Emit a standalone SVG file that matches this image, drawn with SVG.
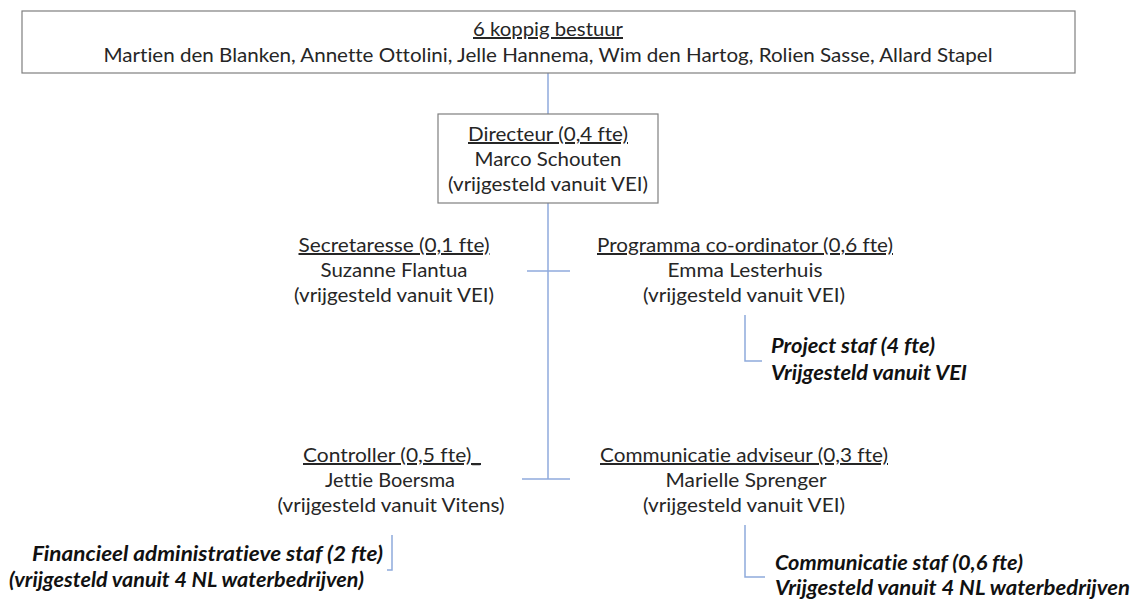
<svg xmlns="http://www.w3.org/2000/svg" width="1133" height="600" viewBox="0 0 1133 600">
<style>
text{font-family:Lato,"Open Sans","Liberation Sans",sans-serif;font-size:20px;fill:#262626;font-variant-ligatures:none}
.c{text-anchor:middle}
.u{text-decoration:underline}
.bi{font-weight:bold;font-style:italic;fill:#111}
.box{fill:#fff;stroke:#7f7f7f;stroke-width:1.2}
.ln{fill:none;stroke:#8faadc;stroke-width:1.5}
</style>
<rect width="1133" height="600" fill="#fff"/>
<g id="connectors">
<line class="ln" x1="548" y1="73" x2="548" y2="479"/>
<line class="ln" x1="527" y1="271" x2="570" y2="271"/>
<line class="ln" x1="522" y1="479" x2="570" y2="479"/>
<polyline class="ln" points="745,315 745,361 762,361"/>
<polyline class="ln" points="745,525 745,577 765,577"/>
<polyline class="ln" points="392,535 392,570 387,570"/>
</g>
<g id="bestuur">
<rect class="box" x="22" y="11" width="1053" height="62"/>
<text class="c u" x="548" y="36" textLength="150" lengthAdjust="spacingAndGlyphs">6 koppig bestuur</text>
<text class="c" x="548" y="62" textLength="889" lengthAdjust="spacingAndGlyphs">Martien den Blanken, Annette Ottolini, Jelle Hannema, Wim den Hartog, Rolien Sasse, Allard Stapel</text>
</g>
<g id="directeur">
<rect class="box" x="438" y="114" width="220" height="89"/>
<text class="c u" x="548" y="141" textLength="160" lengthAdjust="spacingAndGlyphs">Directeur (0,4 fte)</text>
<text class="c" x="548" y="166" textLength="147" lengthAdjust="spacingAndGlyphs">Marco Schouten</text>
<text class="c" x="548" y="191" textLength="200" lengthAdjust="spacingAndGlyphs">(vrijgesteld vanuit VEI)</text>
</g>
<g id="secretaresse">
<text class="c u" x="394" y="252" textLength="191" lengthAdjust="spacingAndGlyphs">Secretaresse (0,1 fte)</text>
<text class="c" x="394" y="277" textLength="147" lengthAdjust="spacingAndGlyphs">Suzanne Flantua</text>
<text class="c" x="394" y="302" textLength="200" lengthAdjust="spacingAndGlyphs">(vrijgesteld vanuit VEI)</text>
</g>
<g id="programma">
<text class="c u" x="745" y="252" textLength="296" lengthAdjust="spacingAndGlyphs">Programma co-ordinator (0,6 fte)</text>
<text class="c" x="745" y="277" textLength="155" lengthAdjust="spacingAndGlyphs">Emma Lesterhuis</text>
<text class="c" x="744" y="302" textLength="202" lengthAdjust="spacingAndGlyphs">(vrijgesteld vanuit VEI)</text>
</g>
<g id="projectstaf">
<text class="bi" x="771" y="353" textLength="164" lengthAdjust="spacingAndGlyphs">Project staf (4 fte)</text>
<text class="bi" x="771" y="380" textLength="196" lengthAdjust="spacingAndGlyphs">Vrijgesteld vanuit VEI</text>
</g>
<g id="controller">
<text class="c u" x="392" y="462" textLength="178" lengthAdjust="spacingAndGlyphs">Controller (0,5 fte)_</text>
<text class="c" x="390" y="487" textLength="130" lengthAdjust="spacingAndGlyphs">Jettie Boersma</text>
<text class="c" x="391" y="512" textLength="227" lengthAdjust="spacingAndGlyphs">(vrijgesteld vanuit Vitens)</text>
</g>
<g id="communicatie">
<text class="c u" x="744" y="462" textLength="288" lengthAdjust="spacingAndGlyphs">Communicatie adviseur (0,3 fte)</text>
<text class="c" x="746" y="487" textLength="161" lengthAdjust="spacingAndGlyphs">Marielle Sprenger</text>
<text class="c" x="744" y="512" textLength="202" lengthAdjust="spacingAndGlyphs">(vrijgesteld vanuit VEI)</text>
</g>
<g id="financieel">
<text class="bi" x="32" y="561" textLength="351" lengthAdjust="spacingAndGlyphs">Financieel administratieve staf (2 fte)</text>
<text class="bi" x="9" y="587" textLength="355" lengthAdjust="spacingAndGlyphs">(vrijgesteld vanuit 4 NL waterbedrijven)</text>
</g>
<g id="communicatiestaf">
<text class="bi" x="775" y="570" textLength="248" lengthAdjust="spacingAndGlyphs">Communicatie staf (0,6 fte)</text>
<text class="bi" x="775" y="595" textLength="355" lengthAdjust="spacingAndGlyphs">Vrijgesteld vanuit 4 NL waterbedrijven</text>
</g>
</svg>
